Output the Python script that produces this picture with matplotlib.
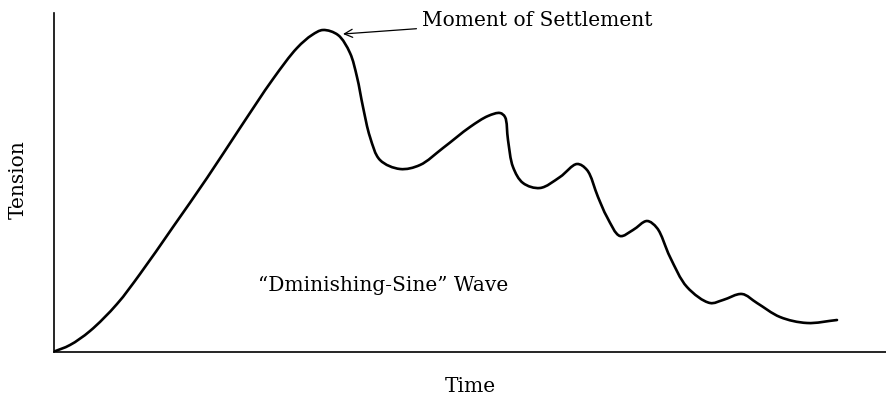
import matplotlib.pyplot as plt
import numpy as np
from matplotlib.path import Path
from matplotlib.patches import PathPatch

plt.rcParams['font.family'] = ['DejaVu Serif']

# curve (time, tension), arbitrary units
time = [53, 70, 90, 117, 140, 173, 207, 240, 273, 297, 312, 323, 338, 350, 357,
        363, 370, 380, 400, 420, 443, 470, 488, 500, 505, 508, 513, 523, 540,
        560, 577, 587, 598, 607, 620, 633, 647, 657, 670, 687, 710, 723, 742,
        757, 780, 807, 837]
tension = [352, 345, 331, 304, 274, 227, 178, 128, 79, 48, 35, 30, 35, 53, 77,
           107, 137, 160, 169, 165, 148, 127, 116, 113, 117, 140, 167, 183, 188,
           177, 164, 170, 197, 217, 236, 230, 221, 228, 257, 287, 303, 300, 294,
           303, 317, 323, 320]
tension = [352 - v for v in tension]


def smooth_path(x, y):
    # centripetal catmull-rom through the read points, as bezier segments
    pts = np.column_stack([x, y]).astype(float)
    ext = np.vstack([2 * pts[0] - pts[1], pts, 2 * pts[-1] - pts[-2]])
    verts = [pts[0]]
    codes = [Path.MOVETO]
    for i in range(1, len(ext) - 2):
        p0, p1, p2, p3 = ext[i - 1], ext[i], ext[i + 1], ext[i + 2]
        d01 = np.linalg.norm(p1 - p0) ** 0.5
        d12 = np.linalg.norm(p2 - p1) ** 0.5
        d23 = np.linalg.norm(p3 - p2) ** 0.5
        m1 = ((p1 - p0) / d01 - (p2 - p0) / (d01 + d12) + (p2 - p1) / d12) * d12
        m2 = ((p2 - p1) / d12 - (p3 - p1) / (d12 + d23) + (p3 - p2) / d23) * d12
        verts += [p1 + m1 / 3, p2 - m2 / 3, p2]
        codes += [Path.CURVE4] * 3
    return Path(verts, codes)


fig = plt.figure(figsize=(8.86, 4), dpi=100)
ax = fig.add_axes([54/886, 48/400, 832/886, 339/400])

ax.add_patch(PathPatch(smooth_path(time, tension), fill=False,
                       edgecolor='black', lw=1.9, capstyle='round'))

ax.set_xlim(54, 886)
ax.set_ylim(0, 339)
ax.set_xticks([])
ax.set_yticks([])
ax.spines['top'].set_visible(False)
ax.spines['right'].set_visible(False)
ax.spines['left'].set_linewidth(1.2)
ax.spines['bottom'].set_linewidth(1.2)

ax.annotate('Moment of Settlement', xy=(343, 352 - 34), xytext=(422, 352 - 20),
            fontsize=14.5, va='center', ha='left',
            arrowprops=dict(arrowstyle='->', color='black', lw=0.9,
                            shrinkA=2, shrinkB=0))
ax.text(258, 352 - 285, '\u201cDminishing-Sine\u201d Wave', fontsize=14.5,
        va='center', ha='left')

fig.text(18/886, 1 - 180/400, 'Tension', rotation=90, fontsize=14.5,
         va='center', ha='center')
fig.text(470/886, 1 - 386/400, 'Time', fontsize=14.5, va='center', ha='center')

plt.savefig('out.png', dpi=100)
